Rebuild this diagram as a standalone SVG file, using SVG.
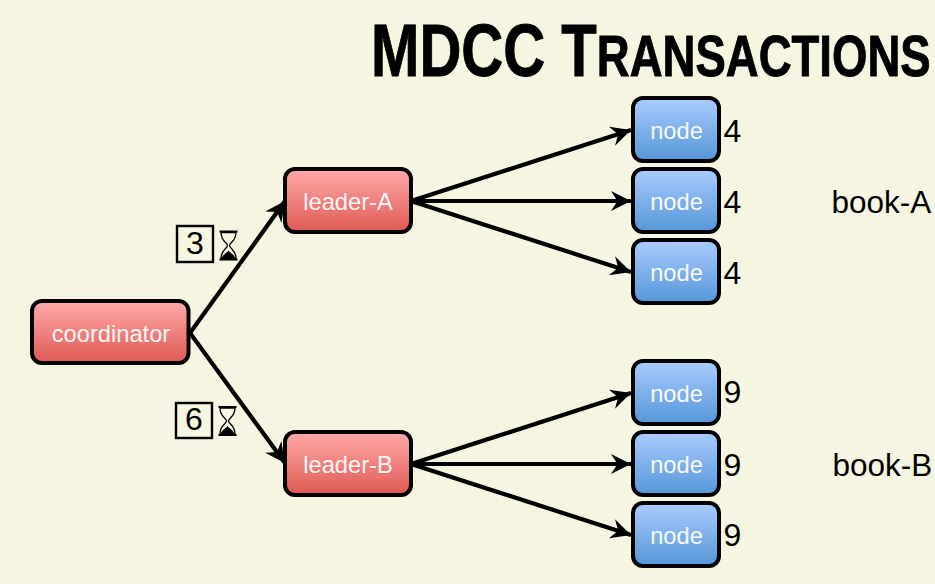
<svg xmlns="http://www.w3.org/2000/svg" xmlns:xlink="http://www.w3.org/1999/xlink" width="935" height="584" viewBox="0 0 935 584">
<style>
text{font-family:"Liberation Sans",Arial,sans-serif}
.n{stroke:#000;stroke-width:4}
.red{fill:url(#gr)}
.blue{fill:url(#gb)}
.l{fill:#fff;font-size:23.700px;text-anchor:middle;opacity:.93}
.v{fill:#000;font-size:32px}
.b{fill:none;stroke:#000;stroke-width:2.4}
.c{stroke:#000;stroke-width:4.2;fill:none;marker-end:url(#a)}
.title{font-weight:bold;fill:#000;stroke:#000;stroke-width:.9}
</style>
<defs>
<linearGradient id="gr" x1="0" y1="0" x2="0" y2="1"><stop offset="0" stop-color="#ffaaaa"/><stop offset="1" stop-color="#de5a52"/></linearGradient>
<linearGradient id="gb" x1="0" y1="0" x2="0" y2="1"><stop offset="0" stop-color="#aaccff"/><stop offset="1" stop-color="#5596d8"/></linearGradient>
<marker id="a" markerUnits="userSpaceOnUse" markerWidth="26" markerHeight="26" refX="20" refY="10" orient="auto" viewBox="0 0 26 20">
<path d="M0 0L20 10L0 20L6.500 10Z" fill="#000"/>
</marker>
<g id="hg">
<path d="M-9 -14H9M-9 14H9" stroke="#000" stroke-width="2" fill="none"/>
<path d="M-7.500 -13C-7.500 -4 -1 -3 -1 0C-1 3 -7.500 4 -7.500 13H7.500C7.500 4 1 3 1 0C1 -3 7.500 -4 7.500 -13Z" fill="#f5f5e2" stroke="#000" stroke-width="1.300"/>
<path d="M-7 13C-5 8 -1 7 0 5C1 7 5 8 7 13Z" fill="#000"/>
</g>
</defs>
<rect width="935" height="584" fill="#f5f5e2"/>
<text class="title" transform="translate(371,76) scale(.785,1)" font-size="74">MDCC T<tspan font-size="58">RANSACTIONS</tspan></text>
<g id="connectors">
<path class="c" d="M190 333L285 201"/>
<path class="c" d="M190 333L285 463"/>
<path class="c" d="M411 201L631 130"/>
<path class="c" d="M411 201L631 201"/>
<path class="c" d="M411 201L631 272"/>
<path class="c" d="M411 464L631 393"/>
<path class="c" d="M411 464L631 464"/>
<path class="c" d="M411 464L631 535"/>
</g>
<g id="coordinator"><rect class="n red" x="32" y="301" width="156.500" height="62" rx="10"/><text class="l" x="111" y="342">coordinator</text></g>
<g id="leader-a"><rect class="n red" x="285" y="169" width="126" height="63" rx="10"/><text class="l" x="348" y="210">leader-A</text></g>
<g id="leader-b"><rect class="n red" x="285" y="432" width="126" height="63" rx="10"/><text class="l" x="348" y="473">leader-B</text></g>
<g id="node-a1"><rect class="n blue" x="633" y="98" width="86" height="63" rx="10"/><text class="l" x="676.500" y="139">node</text><text class="v" x="723.500" y="142">4</text></g>
<g id="node-a2"><rect class="n blue" x="633" y="169" width="86" height="63" rx="10"/><text class="l" x="676.500" y="210">node</text><text class="v" x="723.500" y="213">4</text></g>
<g id="node-a3"><rect class="n blue" x="633" y="240" width="86" height="63" rx="10"/><text class="l" x="676.500" y="281">node</text><text class="v" x="723.500" y="284">4</text></g>
<g id="node-b1"><rect class="n blue" x="633" y="361" width="86" height="63" rx="10"/><text class="l" x="676.500" y="402">node</text><text class="v" x="723.500" y="403">9</text></g>
<g id="node-b2"><rect class="n blue" x="633" y="432" width="86" height="63" rx="10"/><text class="l" x="676.500" y="473">node</text><text class="v" x="723.500" y="476">9</text></g>
<g id="node-b3"><rect class="n blue" x="633" y="503" width="86" height="63" rx="10"/><text class="l" x="676.500" y="544">node</text><text class="v" x="723.500" y="546">9</text></g>
<g id="badge-3"><rect class="b" x="177" y="226" width="36" height="36"/><text class="v" x="195" y="254" text-anchor="middle">3</text><use xlink:href="#hg" href="#hg" x="228.500" y="245.500"/></g>
<g id="badge-6"><rect class="b" x="176" y="403" width="36" height="35"/><text class="v" x="194" y="430" text-anchor="middle">6</text><use xlink:href="#hg" href="#hg" x="227.500" y="421"/></g>
<text x="831.500" y="213" font-size="31.500" fill="#000">book-A</text>
<text x="832.500" y="476" font-size="31.500" fill="#000">book-B</text>
</svg>
